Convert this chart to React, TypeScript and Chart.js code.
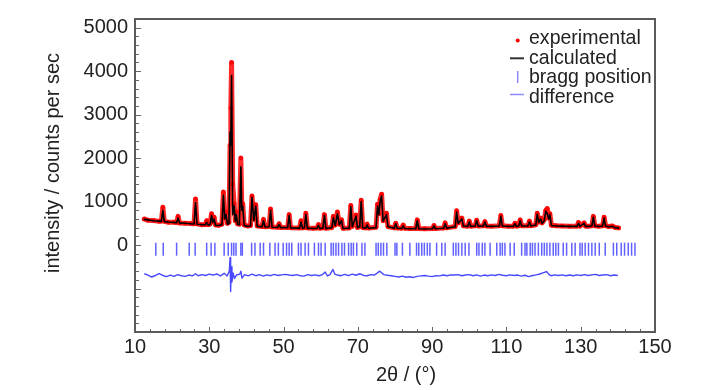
import React, { useEffect, useRef } from "react";
import { Chart, registerables } from "chart.js";

Chart.register(...registerables);

// ---- tick labels ----
const xTickLabels = [10, 30, 50, 70, 90, 110, 130, 150];
const yTickLabels = [0, 1000, 2000, 3000, 4000, 5000];

// ---- profile (2θ, calculated, experimental) ----
const twoTheta = [
  12.5, 13.5, 15, 16.5, 17.1, 17.5, 17.9, 19, 20.5, 21.2, 21.6, 22.0, 23.5, 25, 25.9, 26.3, 26.7, 28, 28.9, 29.3,
  29.7, 30.2, 30.6, 30.95, 31.3, 31.7, 32.5, 33.4, 33.8, 34.15, 34.5, 34.9, 35.3, 35.6, 35.8, 36.0, 36.3, 36.7, 37.0, 37.3,
  37.6, 38.1, 38.5, 38.75, 39.0, 39.4, 40.3, 41.1, 41.5, 42.0, 42.5, 42.9, 44.2, 44.6, 45.0, 46.1, 46.5, 46.9, 48.4, 48.8,
  49.2, 51.1, 51.5, 51.9, 54.3, 54.7, 55.1, 55.6, 56.0, 56.4, 58.0, 59.0, 59.4, 59.8, 60.6, 61.0, 61.4, 63.0, 63.4, 63.9,
  64.5, 65.0, 65.6, 66.0, 67.7, 68.1, 68.5, 69.5, 69.9, 70.5, 70.9, 71.3, 72.1, 72.5, 72.9, 74.9, 75.3, 75.65, 76.0, 76.4,
  76.8, 77.7, 78.1, 79.8, 80.2, 80.6, 81.8, 82.2, 82.6, 84, 85.6, 86.0, 86.4, 88, 90.1, 90.5, 90.9, 93.1, 93.5, 93.9,
  96.2, 96.6, 97.0, 98.0, 98.4, 99.6, 100.0, 100.4, 101.6, 102.0, 102.4, 103.8, 104.2, 104.6, 106, 108.1, 108.5, 108.9, 110.5, 111.9,
  112.3, 112.7, 113.3, 113.7, 114.1, 115.8, 116.2, 116.6, 117.9, 118.3, 118.7, 119.2, 119.6, 120.2, 120.6, 121.0, 121.4, 121.7, 122.1, 123.5,
  125, 127, 129.0, 129.4, 129.8, 130.9, 131.3, 132, 133.0, 133.4, 133.8, 134.8, 135.9, 136.3, 136.7, 137.5, 138.5, 139.3, 140.2,
];
const calculated = [
  590, 580, 560, 550, 545, 800, 540, 530, 520, 515, 620, 510, 500, 490, 485, 980, 480, 470, 465, 520,
  460, 470, 680, 520, 600, 450, 450, 470, 1150, 600, 700, 480, 500, 2600, 2300, 3900, 700, 900, 550, 700,
  480, 470, 1800, 800, 900, 450, 430, 440, 1100, 560, 900, 430, 420, 560, 415, 420, 800, 410, 405, 470,
  400, 400, 680, 395, 390, 530, 390, 400, 700, 390, 380, 385, 450, 380, 390, 680, 380, 400, 630, 450,
  720, 470, 560, 380, 390, 880, 420, 660, 400, 420, 1000, 400, 390, 460, 385, 400, 900, 700, 1000, 1130,
  550, 700, 420, 390, 490, 385, 380, 440, 380, 375, 375, 560, 375, 370, 375, 440, 375, 385, 490, 390,
  420, 760, 500, 600, 440, 430, 530, 430, 440, 560, 435, 440, 530, 435, 430, 440, 660, 440, 430, 430,
  490, 430, 440, 560, 440, 440, 530, 440, 460, 710, 520, 600, 500, 560, 780, 720, 600, 700, 450, 440,
  435, 430, 430, 500, 430, 500, 430, 430, 440, 640, 440, 430, 440, 620, 440, 420, 430, 400, 390,
];
const experimental = [
  600, 570, 565, 545, 550, 870, 545, 525, 525, 520, 660, 505, 500, 495, 490, 1060, 490, 465, 470, 560,
  470, 480, 720, 540, 640, 460, 455, 480, 1220, 620, 760, 500, 520, 2300, 3150, 4200, 1400, 950, 560, 760,
  490, 480, 2000, 900, 950, 460, 440, 450, 1130, 600, 930, 440, 425, 590, 420, 425, 830, 415, 410, 490,
  405, 405, 700, 400, 395, 560, 395, 405, 730, 395, 385, 390, 470, 385, 395, 700, 385, 405, 660, 460,
  760, 480, 580, 385, 395, 910, 430, 690, 405, 425, 1030, 405, 395, 480, 390, 410, 940, 720, 1050, 1170,
  560, 730, 425, 395, 500, 390, 385, 460, 385, 380, 380, 580, 380, 375, 380, 450, 380, 390, 510, 395,
  425, 790, 510, 620, 445, 435, 550, 435, 445, 570, 440, 445, 540, 440, 435, 445, 680, 445, 435, 435,
  500, 435, 445, 580, 445, 445, 550, 445, 465, 730, 530, 620, 510, 580, 800, 840, 620, 720, 455, 445,
  440, 435, 435, 520, 435, 510, 435, 435, 445, 660, 445, 435, 445, 640, 445, 425, 440, 405, 395,
];

// ---- Bragg reflection positions (2θ) ----
const braggPositions = [
  15.6, 17.6, 21.2, 24.6, 26.2, 29.3, 30.5, 31.5, 34.0, 35.1, 36.0, 36.6, 37.2, 38.5, 38.9, 41.4, 42.3, 43.7, 44.6,
  46.3, 47.7, 48.6, 49.9, 50.8, 51.5, 52.2, 54.0, 54.7, 55.8, 56.7, 58.3, 59.4, 60.1, 61.2, 62.8, 63.4, 64.1, 64.8,
  65.7, 66.4, 67.5, 68.2, 68.8, 69.7, 71.1, 71.9, 74.9, 75.5, 76.2, 76.9, 77.8, 80.0,
  80.5, 82.0, 84.0, 85.8, 86.4, 87.2, 87.9, 88.7, 89.4, 91.2, 92.6, 93.5, 95.7, 96.4, 97.1, 98.0, 98.9, 99.9,
  102.0, 102.6, 103.5, 104.2, 105.6, 107.4, 108.3, 108.9, 109.6, 111.0, 112.1, 114.1, 115.0,
  115.5, 116.4, 117.0, 117.7, 118.6, 119.5, 120.2, 120.9, 121.7, 122.6, 123.3, 124.0, 125.3, 126.2, 127.6, 128.5,
  129.8, 130.4, 131.2, 132.1, 133.0, 133.9, 135.0, 136.6, 138.8, 139.7, 140.9, 141.8, 142.8, 143.7, 144.6,
];
const braggLevel = -95;

// ---- difference curve ----
const diffTheta = [
  12.5, 13.5, 14.5, 15.5, 16.5, 17.5, 18.5, 19.5, 20.5, 21.5, 22.5, 23.5, 24.5, 25.5, 26.3, 27, 28, 29, 30, 31,
  32, 33, 34, 34.8, 35.4, 35.6, 35.75, 35.9, 36.1, 36.4, 36.8, 37.3, 38.2, 38.5, 38.8, 39.5, 40.5, 41.5, 42.5, 43.5,
  44.5, 45.5, 46.5, 47.5, 48.5, 49.5, 50.5, 51.5, 52.5, 53.5, 54.5, 55.5, 56.5, 57.5, 58.5, 59.5, 60.5, 61.2, 61.8, 62.5,
  63.3, 63.8, 64.5, 65.5, 66.5, 67.5, 68.5, 69.5, 70.5, 71.5, 72.5, 73.5, 74.5, 75.3, 75.8, 76.3, 77, 78, 79, 80,
  81, 82, 83, 84, 85, 86, 87, 88, 89, 90, 91, 92, 93, 94, 95, 96, 97, 98, 99, 100,
  101, 102, 103, 104, 105, 106, 107, 108, 109, 110, 111, 112, 113, 114, 115, 116, 117, 118, 119, 120,
  120.8, 121.5, 122, 123, 124, 125, 126, 127, 128, 129, 130, 131, 132, 133, 134, 135, 136, 137, 138, 139, 140,
];
const difference = [
  -660, -690, -735, -700, -655, -700, -725, -690, -720, -680, -705, -720, -690, -710, -660, -705, -680, -700, -670, -690,
  -665, -710, -650, -710, -600, -290, -1070, -500, -850, -640, -770, -690, -670, -600, -760, -680, -710, -670, -705, -680,
  -715, -685, -705, -675, -700, -685, -675, -690, -700, -680, -705, -715, -680, -700, -685, -705, -680, -620, -710, -680,
  -560, -670, -690, -705, -675, -705, -670, -695, -660, -700, -705, -680, -690, -640, -600, -630, -680, -695, -705, -720,
  -735, -715, -740, -730, -745, -720, -710, -700, -715, -725, -705, -710, -690, -705, -685, -690, -680, -705, -690, -680,
  -705, -685, -715, -690, -705, -685, -700, -675, -695, -705, -685, -700, -690, -715, -695, -725, -700, -685, -665, -635,
  -610, -680, -705, -685, -700, -685, -705, -690, -705, -685, -700, -680, -700, -685, -675, -700, -690, -680, -705, -690, -700,
];

const FONT = '"Liberation Sans", Arial, Helvetica, sans-serif';

const decorPlugin = {
  id: "decor",
  afterDatasetsDraw(chart: any) {
    const { ctx, chartArea: a, scales } = chart;
    const xs = scales.x;
    const ys = scales.y;
    ctx.save();
    // inward ticks
    ctx.strokeStyle = "#666";
    ctx.lineWidth = 1;
    ctx.beginPath();
    for (let v = 10; v <= 150; v += 4) {
      const px = Math.round(xs.getPixelForValue(v)) + 0.5;
      const major = (v - 10) % 20 === 0;
      ctx.moveTo(px, a.bottom);
      ctx.lineTo(px, a.bottom - (major ? 5 : 3));
    }
    for (let v = -2000; v <= 5200; v += 200) {
      const py = Math.round(ys.getPixelForValue(v)) + 0.5;
      const major = v % 1000 === 0;
      ctx.moveTo(a.left, py);
      ctx.lineTo(a.left + (major ? 6 : 4), py);
    }
    ctx.stroke();
    // frame
    ctx.strokeStyle = "#5a5a5a";
    ctx.lineWidth = 2;
    ctx.strokeRect(a.left, a.top, a.right - a.left, a.bottom - a.top);

    // axis titles
    ctx.fillStyle = "#222";
    ctx.font = `20px ${FONT}`;
    ctx.textAlign = "center";
    ctx.textBaseline = "middle";
    ctx.fillText("2θ / (°)", 406, 375);
    ctx.save();
    ctx.translate(53, 163);
    ctx.rotate(-Math.PI / 2);
    ctx.fillText("intensity / counts per sec", 0, 0);
    ctx.restore();

    // legend
    const lx = 529;
    const rows = [
      { t: "experimental", y: 44 },
      { t: "calculated", y: 63.5 },
      { t: "bragg position", y: 83 },
      { t: "difference", y: 102.5 },
    ];
    ctx.font = `21px ${FONT}`;
    ctx.textAlign = "left";
    ctx.textBaseline = "alphabetic";
    for (const r of rows) {
      const w = ctx.measureText(r.t).width;
      ctx.fillText(r.t, lx, r.y, w * 0.93);
    }
    // legend symbols
    ctx.fillStyle = "#ff0000";
    ctx.beginPath();
    ctx.arc(517.7, 40.5, 2, 0, Math.PI * 2);
    ctx.fill();
    ctx.strokeStyle = "#333";
    ctx.lineWidth = 2;
    ctx.beginPath();
    ctx.moveTo(510, 58.3);
    ctx.lineTo(524, 58.3);
    ctx.stroke();
    ctx.strokeStyle = "rgba(90,90,255,0.7)";
    ctx.lineWidth = 1.5;
    ctx.beginPath();
    ctx.moveTo(517.7, 71);
    ctx.lineTo(517.7, 83);
    ctx.stroke();
    ctx.strokeStyle = "rgba(110,110,255,0.8)";
    ctx.lineWidth = 1.5;
    ctx.beginPath();
    ctx.moveTo(510, 94.5);
    ctx.lineTo(524, 94.5);
    ctx.stroke();
    ctx.restore();
  },
};

export default function App() {
  const ref = useRef<HTMLCanvasElement | null>(null);

  useEffect(() => {
    if (!ref.current) return;
    const calcData = twoTheta.map((t, i) => ({ x: t, y: calculated[i] }));
    const expData = twoTheta.map((t, i) => ({ x: t, y: experimental[i] }));
    const braggData = braggPositions.map((t) => ({ x: t, y: braggLevel }));
    const diffData = diffTheta.map((t, i) => ({ x: t, y: difference[i] }));

    const chart = new Chart(ref.current, {
      type: "scatter",
      data: {
        datasets: [
          {
            label: "calculated",
            data: calcData,
            showLine: true,
            borderColor: "#000000",
            borderWidth: 1.6,
            borderJoinStyle: "round",
            borderCapStyle: "round",
            pointRadius: 0,
            order: 0,
          },
          {
            label: "experimental",
            data: expData,
            showLine: true,
            borderColor: "rgba(255,20,20,0.9)",
            borderWidth: 5,
            borderJoinStyle: "round",
            borderCapStyle: "round",
            backgroundColor: "#ff0000",
            pointBackgroundColor: "#ff0000",
            pointBorderWidth: 0,
            pointRadius: 2.2,
            order: 1,
          },
          {
            label: "bragg position",
            data: braggData,
            showLine: false,
            pointStyle: "line",
            rotation: 90,
            pointRadius: 6.5,
            borderColor: "rgba(30,30,255,0.7)",
            pointBorderColor: "rgba(30,30,255,0.7)",
            pointBorderWidth: 1.5,
            order: 2,
          },
          {
            label: "difference",
            data: diffData,
            showLine: true,
            borderColor: "rgba(40,40,255,0.85)",
            borderWidth: 1.4,
            borderJoinStyle: "round",
            pointRadius: 0,
            order: 3,
          },
        ],
      },
      options: {
        responsive: false,
        animation: false,
        events: [],
        devicePixelRatio: 1,
        layout: { padding: { top: 8, right: 73, left: 0, bottom: 0 } },
        plugins: {
          legend: { display: false },
          tooltip: { enabled: false },
          title: { display: false },
        },
        scales: {
          x: {
            type: "linear",
            min: 10,
            max: 150,
            afterBuildTicks: (s: any) => {
              s.ticks = xTickLabels.map((v) => ({ value: v }));
            },
            afterFit: (s: any) => {
              s.height = 58;
            },
            ticks: {
              autoSkip: false,
              maxRotation: 0,
              padding: 3,
              color: "#222",
              font: { family: FONT, size: 20 },
              callback: (v: any) => String(v),
            },
            grid: { display: false, drawTicks: false },
            border: { display: false },
          },
          y: {
            type: "linear",
            min: -2000,
            max: 5200,
            afterBuildTicks: (s: any) => {
              s.ticks = yTickLabels.map((v) => ({ value: v }));
            },
            afterFit: (s: any) => {
              s.width = 135;
            },
            ticks: {
              autoSkip: false,
              padding: 7,
              color: "#222",
              font: { family: FONT, size: 20 },
              callback: (v: any) => String(v),
            },
            grid: { display: false, drawTicks: false },
            border: { display: false },
          },
        },
      },
      plugins: [decorPlugin],
    });
    return () => chart.destroy();
  }, []);

  return (
    <div style={{ position: "fixed", left: 0, top: 0, width: 728, height: 390, background: "#fff" }}>
      <canvas ref={ref} width={728} height={390} style={{ width: 728, height: 390 }} />
    </div>
  );
}
